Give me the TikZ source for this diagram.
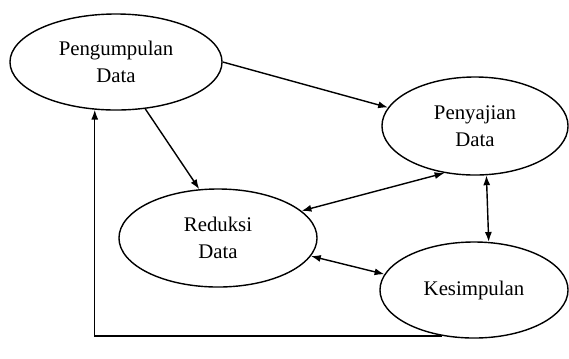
\documentclass[tikz,border=0pt]{standalone}
\usepackage{fontspec}
\setmainfont{Liberation Serif}
\usetikzlibrary{shapes.geometric,arrows.meta}

\begin{document}
\begin{tikzpicture}[x=0.025cm, y=-0.025cm,
        tahap/.style={draw, ellipse, line width=1pt, inner sep=0pt, align=center,
            font=\fontsize{14.8}{19}\selectfont},
        panah/.style={line width=1pt, -{Latex[length=7pt,width=5pt]}},
        dua/.style={line width=1pt, {Latex[length=7pt,width=5pt]}-{Latex[length=7pt,width=5pt]}}]
        \useasboundingbox (0,0) rectangle (569,358);

        % Tahapan
        \node[tahap, minimum width=5.3cm, minimum height=2.4cm] (kumpul) at (116, 62) {Pengumpulan\\Data};
        \node[tahap, minimum width=4.65cm, minimum height=2.45cm] (saji) at (475, 126) {Penyajian\\Data};
        \node[tahap, minimum width=4.95cm, minimum height=2.45cm] (reduksi) at (218, 238) {Reduksi\\Data};
        \node[tahap, minimum width=4.7cm, minimum height=2.4cm] (simpul) at (474, 290) {Kesimpulan};

        % Alur
        \draw[panah] (kumpul.east) -- (saji.168);
        \draw[panah] (kumpul.302) -- (reduksi.111);
        \draw[dua] (reduksi.18) -- (saji.237);
        \draw[dua] (saji.283) -- (simpul.73);
        \draw[dua] (reduksi.349) -- (simpul.170);

        % Kembali ke awal
        \draw[panah] (simpul.235) -| (kumpul.246);
    \end{tikzpicture}
\end{document}
